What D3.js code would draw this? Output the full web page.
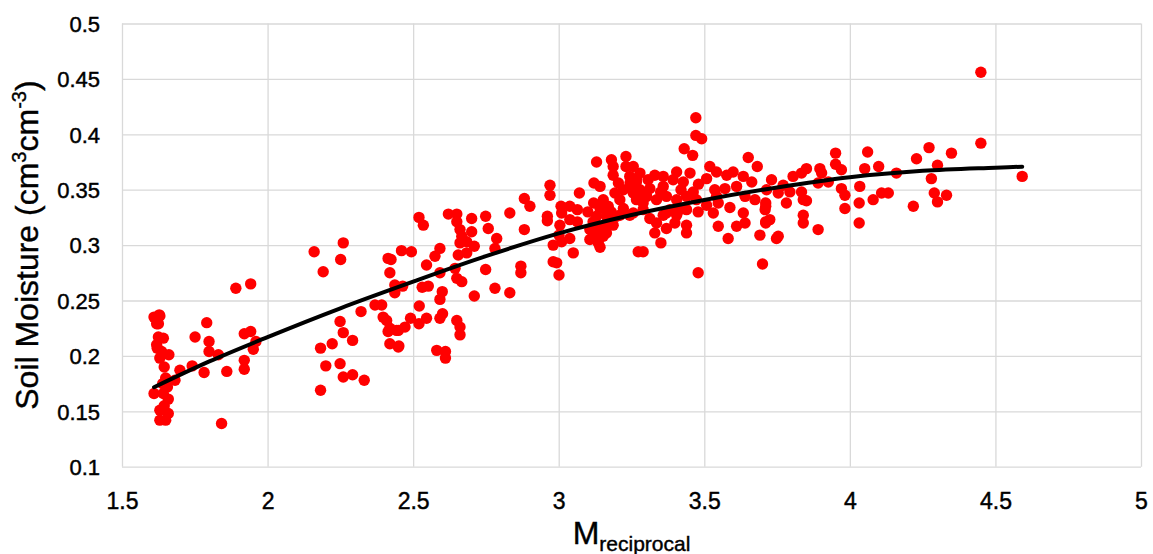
<!DOCTYPE html>
<html>
<head>
<meta charset="utf-8">
<script src="https://cdn.jsdelivr.net/npm/d3@7"></script>
<style>
  body { margin: 0; background: #fff; }
  svg { display: block; font-family: "Liberation Sans", Arial, sans-serif; }
</style>
</head>
<body>
<svg id="chart"></svg>
<script>
// axis ticks
const xTicks = [1.5, 2, 2.5, 3, 3.5, 4, 4.5, 5];
const yTicks = [0.1, 0.15, 0.2, 0.25, 0.3, 0.35, 0.4, 0.45, 0.5];

// trend line
const trendX = [1.61, 1.8, 2.0, 2.25, 2.5, 2.75, 3.0, 3.25, 3.5, 3.75, 4.0, 4.25, 4.5, 4.592];
const trendY = [0.1717, 0.195, 0.217, 0.243, 0.267, 0.29, 0.3106, 0.3272, 0.3407, 0.352, 0.3612, 0.367, 0.3699, 0.3708];

// scatter points [M_reciprocal, soil moisture]
const pointsLow = [
  [1.610,0.166],[1.610,0.235],[1.628,0.237],[1.619,0.229],[1.630,0.236],[1.621,0.232],[1.625,0.229],
  [1.625,0.217],[1.642,0.216],[1.621,0.207],[1.636,0.204],[1.661,0.201],[1.630,0.198],[1.642,0.166],
  [1.656,0.172],[1.650,0.180],[1.659,0.161],[1.630,0.151],[1.659,0.148],[1.630,0.142],[1.650,0.142],
  [1.619,0.210],[1.645,0.190],[1.640,0.175],[1.645,0.155],[1.682,0.178],[1.699,0.187],[1.741,0.191],
  [1.751,0.217],[1.782,0.185],[1.791,0.230],[1.799,0.213],[1.799,0.204],[1.831,0.201],[1.842,0.139],
  [1.860,0.186],[1.891,0.261],[1.920,0.220],[1.920,0.196],[1.920,0.188],[1.942,0.265],[1.942,0.222],
  [1.951,0.206],[1.960,0.213]
];
const pointsMid = [
  [2.160,0.294],[2.191,0.276],[2.182,0.207],[2.200,0.191],[2.182,0.169],[2.222,0.211],[2.249,0.231],
  [2.260,0.221],[2.292,0.214],[2.249,0.193],[2.260,0.181],[2.292,0.183],[2.332,0.178],[2.321,0.240],
  [2.260,0.302],[2.251,0.287],[2.369,0.246],[2.392,0.246],[2.397,0.235],[2.414,0.222],[2.420,0.211],
  [2.449,0.208],[2.420,0.275],[2.437,0.264],[2.437,0.257],[2.443,0.223],[2.409,0.232],[2.420,0.225],
  [2.449,0.223],[2.472,0.226],[2.491,0.234],[2.520,0.229],[2.546,0.234],[2.521,0.245],[2.451,0.209],
  [2.414,0.288],[2.424,0.287],[2.460,0.295],[2.494,0.294],[2.464,0.263],[2.520,0.325],[2.535,0.318],
  [2.546,0.282],[2.575,0.290],[2.592,0.297],[2.592,0.275],[2.531,0.262],[2.552,0.263],[2.600,0.258],
  [2.592,0.251],[2.601,0.238],[2.592,0.234],[2.581,0.205],[2.611,0.204],[2.611,0.198],[2.621,0.328],
  [2.650,0.328],[2.650,0.321],[2.661,0.314],[2.667,0.308],[2.661,0.302],[2.701,0.324],[2.701,0.312],
  [2.684,0.303],[2.655,0.291],[2.684,0.293],[2.710,0.299],[2.644,0.279],[2.650,0.270],[2.667,0.267],
  [2.710,0.254],[2.749,0.326],[2.758,0.315],[2.749,0.278],[2.781,0.261],[2.787,0.306],[2.781,0.297],
  [2.650,0.232],[2.661,0.226],[2.661,0.219],
  [2.832,0.257],[2.870,0.281],[2.870,0.275],[2.832,0.329],[2.882,0.342],[2.901,0.335],[2.882,0.314],
  [2.970,0.354],[2.970,0.345],[2.961,0.326],[2.961,0.322],[2.981,0.300],[2.981,0.285],[2.993,0.284],
  [3.001,0.273],[3.008,0.335],[3.010,0.329],[3.038,0.335],[3.064,0.332],[3.004,0.318],[3.001,0.309],
  [3.010,0.303],[3.038,0.306],[3.038,0.323],[3.064,0.321],[3.050,0.293],[3.071,0.347],[3.130,0.375],
  [3.181,0.377],[3.231,0.380],[3.231,0.371],[3.187,0.371],[3.187,0.363],[3.205,0.356],[3.121,0.356],
  [3.142,0.353],[3.244,0.362],[3.250,0.353],[3.267,0.344],[3.244,0.327],[3.210,0.341],[3.210,0.327],
  [3.153,0.341],[3.142,0.333],[3.170,0.335],[3.130,0.326],[3.164,0.326],[3.118,0.321],[3.142,0.315],
  [3.164,0.317],[3.187,0.318],[3.107,0.314],[3.130,0.311],[3.153,0.308],[3.130,0.305],[3.142,0.298],
  [3.273,0.294],[3.136,0.302],[3.107,0.305],[3.164,0.311],[3.199,0.326],[3.222,0.333],[3.256,0.347],
  [3.267,0.357],[3.222,0.350],[3.193,0.347],[3.180,0.330],[3.120,0.338],[3.100,0.330]
];
const pointsHigh = [
  [3.471,0.415],[3.471,0.399],[3.491,0.396],[3.431,0.387],[3.460,0.381],[3.519,0.371],[3.651,0.379],
  [3.682,0.371],[3.731,0.359],[3.330,0.363],[3.267,0.360],[3.290,0.294],[3.351,0.302],[3.330,0.311],
  [3.370,0.315],[3.439,0.311],[3.439,0.318],[3.399,0.320],[3.479,0.275],[3.582,0.306],[3.548,0.317],
  [3.588,0.334],[3.611,0.317],[3.640,0.320],[3.634,0.329],[3.691,0.309],[3.711,0.320],[3.709,0.332],
  [3.700,0.283],[3.748,0.306],[3.531,0.329],[3.479,0.330],[3.548,0.338],[3.245,0.356],[3.279,0.350],
  [3.313,0.351],[3.359,0.353],[3.393,0.359],[3.428,0.357],[3.451,0.365],[3.462,0.348],[3.508,0.360],
  [3.542,0.366],[3.577,0.363],[3.599,0.366],[3.634,0.362],[3.663,0.357],[3.571,0.351],[3.536,0.350],
  [3.611,0.353],[3.640,0.344],[3.674,0.341],[3.714,0.350],[3.267,0.341],[3.302,0.344],[3.336,0.341],
  [3.370,0.344],[3.405,0.341],[3.439,0.344],[3.473,0.341],[3.508,0.336],[3.542,0.344],[3.256,0.329],
  [3.290,0.332],[3.313,0.324],[3.370,0.329],[3.405,0.327],[3.336,0.320],[3.439,0.332],[3.359,0.362],
  [3.307,0.359],[3.256,0.371],[3.279,0.365],[3.405,0.366],[3.382,0.332],[3.416,0.332],[3.359,0.327],
  [3.290,0.338],[3.350,0.348],[3.420,0.350],[3.480,0.355],
  [3.951,0.383],[4.061,0.384],[4.229,0.378],[3.951,0.373],[3.971,0.368],[4.051,0.369],[4.099,0.371],
  [4.160,0.365],[3.897,0.369],[3.903,0.365],[3.851,0.369],[3.834,0.365],[3.805,0.362],[3.926,0.357],
  [3.891,0.356],[3.771,0.354],[3.794,0.348],[3.754,0.347],[3.834,0.348],[3.840,0.341],[3.782,0.338],
  [3.851,0.340],[3.971,0.351],[3.983,0.345],[3.983,0.333],[4.034,0.353],[4.032,0.338],[4.032,0.320],
  [4.080,0.341],[4.109,0.347],[4.132,0.347],[4.218,0.335],[3.840,0.327],[3.840,0.320],[3.891,0.314],
  [3.754,0.308],[3.711,0.338],[3.711,0.335],[3.711,0.321],[3.725,0.323],
  [4.450,0.456],[4.450,0.392],[4.272,0.388],[4.349,0.383],[4.301,0.372],[4.280,0.360],[4.290,0.347],
  [4.332,0.345],[4.301,0.339],[4.592,0.362]
];

const width = 1153, height = 554;
const margin = { top: 23.5, right: 12, bottom: 87.3, left: 122 };
const innerW = width - margin.left - margin.right;
const innerH = height - margin.top - margin.bottom;

const svg = d3.select("#chart").attr("width", width).attr("height", height);
const g = svg.append("g").attr("transform", `translate(${margin.left},${margin.top})`);

const x = d3.scaleLinear().domain([1.5, 5]).range([0, innerW]);
const y = d3.scaleLinear().domain([0.1, 0.5]).range([innerH, 0]);

// grid + tick labels
const xAxis = g.append("g")
    .attr("transform", `translate(0,${innerH})`)
    .call(d3.axisBottom(x).tickValues(xTicks).tickSize(-innerH).tickFormat(d => String(d)));
const yAxis = g.append("g")
    .call(d3.axisLeft(y).tickValues(yTicks).tickSize(-innerW).tickFormat(d => String(d)));

[xAxis, yAxis].forEach(a => {
  a.select(".domain").remove();
  a.selectAll("line").attr("stroke", "#d9d9d9").attr("stroke-width", 1.3);
  a.selectAll("text")
    .attr("fill", "#000")
    .attr("stroke", "#000")
    .attr("stroke-width", 0.45)
    .attr("font-family", "'Liberation Sans', Arial, sans-serif");
});
xAxis.selectAll("text").attr("font-size", 23).attr("y", 26).attr("dy", "0.71em");
yAxis.selectAll("text").attr("font-size", 22).attr("x", -22).attr("dy", "0.35em");

// scatter
const allPoints = pointsLow.concat(pointsMid, pointsHigh);
g.append("g")
  .selectAll("circle")
  .data(allPoints)
  .join("circle")
  .attr("cx", d => x(d[0]))
  .attr("cy", d => y(d[1]))
  .attr("r", 5.7)
  .attr("fill", "#ff0000");

// trend line
const trend = trendX.map((v, i) => [v, trendY[i]]);
g.append("path")
  .datum(trend)
  .attr("fill", "none")
  .attr("stroke", "#000")
  .attr("stroke-width", 4)
  .attr("stroke-linecap", "round")
  .attr("d", d3.line().x(d => x(d[0])).y(d => y(d[1])).curve(d3.curveMonotoneX));

// axis titles
const yTitle = svg.append("text")
  .attr("transform", `translate(38,${margin.top + innerH / 2}) rotate(-90)`)
  .attr("text-anchor", "middle")
  .attr("font-size", 32)
  .attr("fill", "#000")
  .attr("stroke", "#000")
  .attr("stroke-width", 0.4);
yTitle.append("tspan").text("Soil Moisture (cm");
yTitle.append("tspan").attr("font-size", 20).attr("dy", -12).text("3");
yTitle.append("tspan").attr("dy", 12).text("cm");
yTitle.append("tspan").attr("font-size", 20).attr("dy", -12).text("-3");
yTitle.append("tspan").attr("dy", 12).text(")");

const xTitle = svg.append("text")
  .attr("x", margin.left + innerW / 2)
  .attr("y", 544)
  .attr("text-anchor", "middle")
  .attr("fill", "#000")
  .attr("stroke", "#000")
  .attr("stroke-width", 0.4);
xTitle.append("tspan").attr("font-size", 32).text("M");
xTitle.append("tspan").attr("font-size", 21).attr("dy", 7).text("reciprocal");
</script>
</body>
</html>
